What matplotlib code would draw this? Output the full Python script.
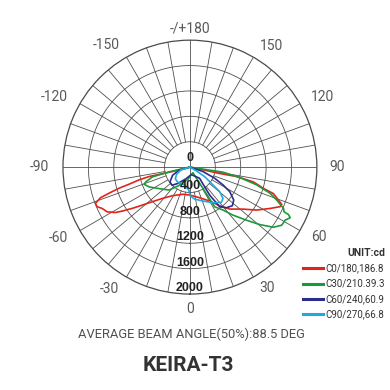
import numpy as np
import matplotlib
matplotlib.use('Agg')
import matplotlib.pyplot as plt

# photometric outlines: gamma (deg, 0 = straight down), intensity (cd)
c0_gamma = [-76, -75.8, -77.0, -75.9, -74.3, -73.4, -72.1, -71.1, -69.0, -66.9, -64.8, -61.6,
            -58.6, -57.0, -54.4, -51.4, -47.3, -41.2, -31.2, -14.9, -1.0, 17.4, 30.1, 37.6,
            43.5, 51.7, 57.2, 62.7, 66.3, 67.9, 72.4, 73.9, 76.9, 78.6, 77.9, 78.3, 78]
c0_cd = [0, 281, 660, 826, 997, 1167, 1342, 1490, 1595, 1590, 1529, 1482,
         1372, 1271, 1116, 958, 803, 654, 526, 443, 439, 505, 617, 768,
         911, 1068, 1249, 1420, 1551, 1561, 1379, 1203, 1024, 747, 479, 208, 0]

c30_gamma = [-78, -77.2, -75.4, -71.5, -69.5, -64.1, -55.0, -46.8, -42.0, -30, -10, 10, 28,
             31.9, 37.6, 41.9, 46.8, 50.6, 54.2, 57.7, 60.9, 63.2, 64.3, 64.6, 66.2,
             69.2, 71.9, 75.1, 78.2, 81.3, 80]
c30_cd = [0, 334, 610, 733, 771, 714, 591, 518, 485, 330, 200, 120, 100,
          735, 854, 1017, 1222, 1427, 1620, 1712, 1717, 1770, 1722, 1642, 1611,
          1463, 1328, 1087, 803, 527, 0]

c60_gamma = [-80, -74, -65, -53.4, -44.7, -36.8, -20, 10, 40.8, 35.2, 36.9, 41.9, 47.7,
             53.1, 58.4, 61.7, 65.8, 71.3, 72]
c60_cd = [0, 173, 301, 392, 402, 323, 200, 120, 231, 537, 780, 860, 904,
          863, 736, 592, 426, 215, 0]

c90_gamma = [-78, -73.2, -62, -51.2, -39, -17.3, -2.9, 0.3, 8.1, 20.9, 32.9, 41.7, 46.6,
             50.5, 52.3, 57.2, 59.3, 60]
c90_cd = [0, 146, 237, 295, 307, 294, 360, 450, 508, 572, 668, 744, 717,
          607, 458, 274, 114, 0]

series = [('C0/180,186.8', c0_gamma, c0_cd, '#e2231a'),
          ('C30/210.39.3', c30_gamma, c30_cd, '#1a9a3c'),
          ('C60/240,60.9', c60_gamma, c60_cd, '#2b2d8e'),
          ('C90/270,66.8', c90_gamma, c90_cd, '#1fa9e1')]

ring_values = [400, 800, 1200, 1600, 2000]
radial_labels = ['0', '400', '800', '1200', '1600', '2000']
angle_ticks = [0, 30, 60, 90, 120, 150, 180, -150, -120, -90, -60, -30]
angle_labels = ['0', '30', '60', '90', '120', '150', '-/+180', '-150', '-120', '-90', '-60', '-30']

plt.rcParams['font.family'] = ['Roboto', 'DejaVu Sans']

fig = plt.figure(figsize=(3.9, 3.9), dpi=100)
ax = fig.add_axes([0.1615, 0.246, 0.651, 0.651], projection='polar')
ax.set_theta_zero_location('S')
ax.set_theta_direction(1)
ax.set_ylim(0, 2000)
ax.set_xticks([])
ax.set_yticks([])
ax.grid(False)
ax.spines['polar'].set_color('#4a4a4a')
ax.spines['polar'].set_linewidth(0.9)

grid_col = '#4f4f4f'
t = np.linspace(0, 2 * np.pi, 721)
for r in ring_values[:-1]:
    ax.plot(t, np.full_like(t, r), color=grid_col, lw=0.6, zorder=1)
for a in range(0, 360, 10):
    ax.plot([np.deg2rad(a)] * 2, [400, 2000], color=grid_col, lw=0.6, zorder=1)
for a in [0, 90, 180, 270]:
    ax.plot([np.deg2rad(a)] * 2, [0, 400], color=grid_col, lw=0.6, zorder=1)

lines = []
for name, g, cd, col in series:
    ln, = ax.plot(np.deg2rad(g), cd, color=col, lw=1.2, label=name, zorder=3)
    lines.append(ln)

# radial value labels on the downward axis
ax.text(np.pi, 150, radial_labels[0], ha='center', va='center', fontsize=9,
        fontweight='bold', color='#222222', family='Liberation Sans', zorder=5)
for v, lab in zip(ring_values, radial_labels[1:]):
    ax.text(0, v - 95, lab, ha='center', va='center', fontsize=9,
            fontweight='bold', color='#222222', family='Liberation Sans', zorder=5)

# angle labels just outside the rim
for a, lab in zip(angle_ticks, angle_labels):
    if a == 0:
        ha, va, r = 'center', 'top', 2130
    elif a == 180:
        ha, va, r = 'center', 'bottom', 2080
    elif a > 0:
        ha, va, r = 'left', 'center', 2200
    else:
        ha, va, r = 'right', 'center', 2220
    ax.text(np.deg2rad(a), r, lab, ha=ha, va=va, fontsize=10,
            color='#5a5a5a', clip_on=False)

leg = fig.legend(handles=lines, loc='upper left', bbox_to_anchor=(0.755, 0.386),
                 frameon=False, fontsize=7, handlelength=2.0, handletextpad=0.3,
                 labelspacing=0.55, title='UNIT:cd', alignment='right',
                 title_fontproperties={'weight': 'bold', 'size': 7.5})
for lh in leg.get_lines():
    lh.set_linewidth(2.2)
for tx in leg.get_texts():
    tx.set_color('#333333')
leg.get_title().set_color('#333333')

fig.text(0.49, 0.143, 'AVERAGE BEAM ANGLE(50%):88.5 DEG', ha='center', va='center',
         fontsize=9.3, color='#505050')
fig.text(0.483, 0.064, 'KEIRA-T3', ha='center', va='center', fontsize=15,
         fontweight='bold', color='#333333')

fig.savefig('out.png', dpi=100)
